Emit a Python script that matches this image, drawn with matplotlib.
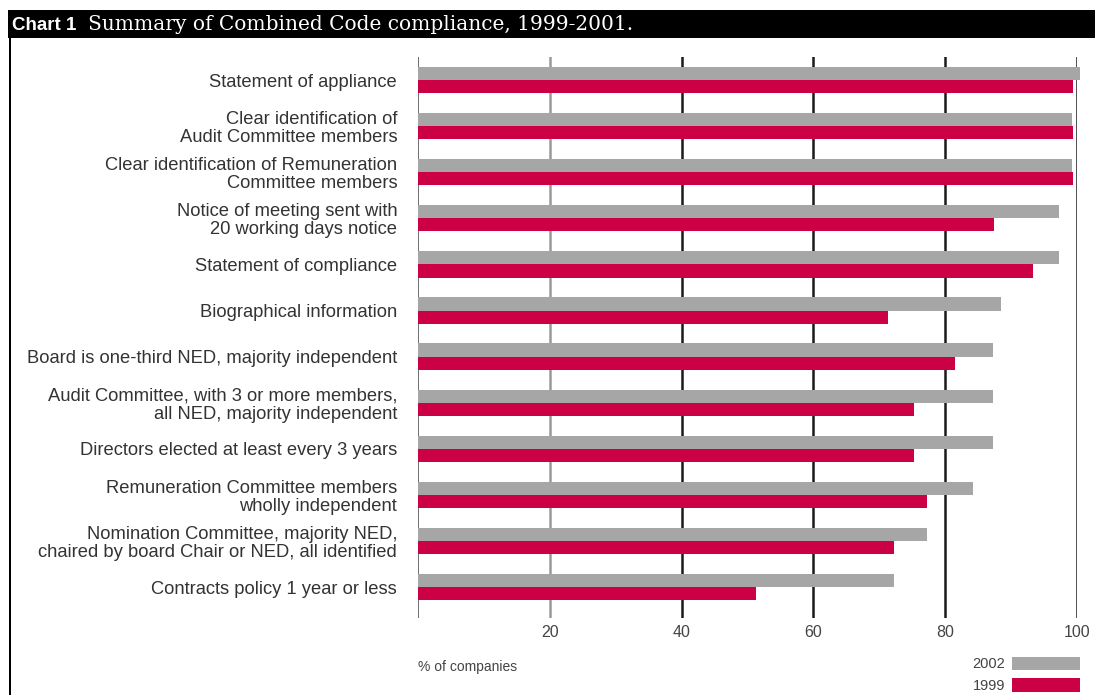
import matplotlib
matplotlib.use("Agg")
import matplotlib.pyplot as plt
from matplotlib.patches import Rectangle

categories = [
    "Statement of appliance",
    "Clear identification of\nAudit Committee members",
    "Clear identification of Remuneration\nCommittee members",
    "Notice of meeting sent with\n20 working days notice",
    "Statement of compliance",
    "Biographical information",
    "Board is one-third NED, majority independent",
    "Audit Committee, with 3 or more members,\nall NED, majority independent",
    "Directors elected at least every 3 years",
    "Remuneration Committee members\nwholly independent",
    "Nomination Committee, majority NED,\nchaired by board Chair or NED, all identified",
    "Contracts policy 1 year or less",
]
values_2002 = [100.4, 99.3, 99.3, 97.3, 97.2, 88.4, 87.3, 87.2, 87.2, 84.2, 77.2, 72.2]
values_1999 = [99.4, 99.4, 99.4, 87.4, 93.3, 71.3, 81.5, 75.3, 75.3, 77.2, 72.2, 51.3]
xticks = [20, 40, 60, 80, 100]
series_names = ["2002", "1999"]

GRAY = "#A6A6A6"
RED = "#CC0044"
W, H = 1095, 695

fig = plt.figure(figsize=(W / 100, H / 100), dpi=100)
fig.patch.set_facecolor("white")

def fx(px):
    return px / W

def fy(py):
    return 1 - py / H

# title bar
fig.patches.append(Rectangle((fx(8), fy(38)), fx(W - 8), (38 - 10) / H,
                             transform=fig.transFigure, facecolor="black",
                             edgecolor="none", zorder=0))
# left border
fig.patches.append(Rectangle((fx(9), 0), 2.2 / W, fy(38),
                             transform=fig.transFigure, facecolor="black",
                             edgecolor="none", zorder=0))
fig.text(fx(12), fy(25), "Chart 1", color="white", fontsize=13.5,
         fontweight="bold", family="Liberation Sans", va="center", ha="left")
fig.text(fx(88), fy(24), "Summary of Combined Code compliance, 1999-2001.",
         color="white", fontsize=14.5, family="DejaVu Serif",
         va="center", ha="left")

ax_left, ax_right = 418, 1077
ax_top, ax_bot = 57, 618
ax = fig.add_axes([fx(ax_left), fy(ax_bot), (ax_right - ax_left) / W,
                   (ax_bot - ax_top) / H])

n = len(categories)
pos = list(range(n))
h = 0.285
ax.barh([p - h / 2 for p in pos], values_2002, height=h, color=GRAY,
        zorder=3, clip_on=False, label=series_names[0])
ax.barh([p + h / 2 for p in pos], values_1999, height=h, color=RED,
        zorder=3, clip_on=False, label=series_names[1])

ax.set_xlim(0, 100)
ax.set_ylim(n - 1 + 0.67, -0.5)

# vertical grid lines
ax.axvline(0, color="#555555", lw=1.2, zorder=1)
ax.axvline(20, color="#999999", lw=1.8, zorder=1)
for x in [40, 60, 80, 100]:
    ax.axvline(x, color="#1a1a1a", lw=1.8, zorder=1)

for s in ax.spines.values():
    s.set_visible(False)

ax.set_yticks(pos)
ax.set_yticklabels(categories, fontsize=13.2, family="Liberation Sans",
                   color="#333333", linespacing=1.08)
ax.tick_params(axis="y", length=0, pad=15)
ax.set_xticks(xticks)
ax.set_xticklabels([str(t) for t in xticks], fontsize=11.5,
                   family="Liberation Sans", color="#444444")
ax.tick_params(axis="x", length=0, pad=5)

fig.text(fx(418), fy(667), "% of companies", fontsize=10,
         family="Liberation Sans", color="#444444", va="center", ha="left")

# legend
fig.patches.append(Rectangle((fx(1012), fy(670)), 68 / W, 13 / H,
                             transform=fig.transFigure, facecolor=GRAY,
                             edgecolor="none"))
fig.patches.append(Rectangle((fx(1012), fy(692)), 68 / W, 14 / H,
                             transform=fig.transFigure, facecolor=RED,
                             edgecolor="none"))
fig.text(fx(1005), fy(664), series_names[0], fontsize=10.5,
         family="Liberation Sans", color="#444444", va="center", ha="right")
fig.text(fx(1005), fy(686), series_names[1], fontsize=10.5,
         family="Liberation Sans", color="#444444", va="center", ha="right")

fig.savefig("out.png", dpi=100)
